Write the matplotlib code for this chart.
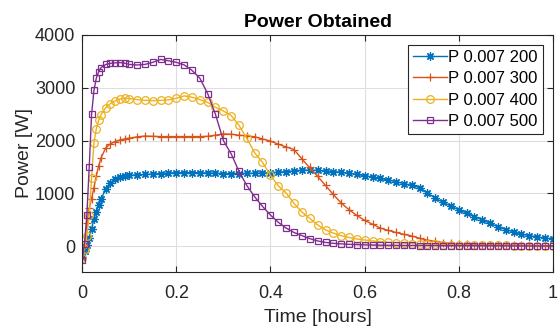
import matplotlib
matplotlib.use('Agg')
import matplotlib.pyplot as plt

# time [hours]
t = [0, 0.005, 0.01, 0.015, 0.02, 0.025, 0.03, 0.035, 0.04, 0.05, 0.06, 0.07, 0.08, 0.09, 0.1,
     0.117, 0.133, 0.15, 0.167, 0.183, 0.2, 0.217, 0.233, 0.25, 0.267, 0.283, 0.3,
     0.317, 0.333, 0.35, 0.367, 0.383, 0.4, 0.417, 0.433, 0.45, 0.467, 0.483, 0.5,
     0.517, 0.533, 0.55, 0.567, 0.583, 0.6, 0.617, 0.633, 0.65, 0.667, 0.683, 0.7,
     0.717, 0.733, 0.75, 0.767, 0.783, 0.8, 0.817, 0.833, 0.85, 0.867, 0.883, 0.9,
     0.917, 0.933, 0.95, 0.967, 0.983, 1.0]

p200 = [-200, -100, 20, 160, 330, 510, 650, 780, 890, 1080, 1190, 1265, 1305, 1325, 1340,
        1350, 1358, 1365, 1375, 1385, 1390, 1395, 1395, 1390, 1385, 1380, 1375,
        1375, 1375, 1378, 1380, 1385, 1390, 1400, 1412, 1425, 1438, 1440, 1435,
        1425, 1412, 1400, 1380, 1360, 1335, 1310, 1285, 1255, 1220, 1185, 1150,
        1110, 1010, 910, 830, 760, 690, 625, 560, 500, 430, 370, 315,
        270, 230, 200, 175, 155, 140]

p300 = [-250, 50, 430, 720, 900, 1110, 1330, 1520, 1670, 1860, 1940, 1980, 2010, 2030, 2045,
        2070, 2085, 2080, 2075, 2075, 2075, 2075, 2075, 2075, 2080, 2100, 2125,
        2120, 2100, 2090, 2070, 2030, 1990, 1930, 1880, 1830, 1650, 1490, 1325,
        1150, 985, 820, 690, 585, 490, 415, 345, 300, 260, 225, 195,
        150, 115, 90, 70, 55, 45, 38, 32, 28, 25, 22, 20,
        18, 16, 14, 13, 12, 10]

p400 = [-220, -50, 200, 600, 1300, 1950, 2220, 2380, 2490, 2620, 2700, 2750, 2785, 2800, 2795,
        2775, 2760, 2755, 2760, 2770, 2800, 2845, 2820, 2775, 2720, 2630, 2560,
        2470, 2290, 2040, 1760, 1590, 1340, 1140, 1010, 810, 645, 530, 405,
        310, 250, 200, 165, 138, 118, 100, 88, 75, 65, 57, 50,
        44, 39, 35, 31, 28, 25, 22, 20, 18, 16, 15, 14,
        13, 12, 11, 10, 10, 9]

p500 = [-270, 50, 600, 1500, 2500, 2950, 3180, 3300, 3380, 3440, 3460, 3470, 3475, 3465, 3440,
        3430, 3440, 3480, 3535, 3510, 3480, 3430, 3330, 3180, 2880, 2500, 2000,
        1740, 1420, 1145, 930, 755, 590, 450, 345, 260, 200, 145, 100,
        72, 55, 45, 36, 30, 25, 22, 20, 18, 16, 15, 14,
        13, 12, 11, 10, 10, 9, 9, 8, 8, 7, 7, 6,
        6, 6, 5, 5, 5, 5]

labels = ['P 0.007 200', 'P 0.007 300', 'P 0.007 400', 'P 0.007 500']
colors = ['#0072BD', '#D95319', '#EDB120', '#7E2F8E']
markers = [(8, 2, 0), '+', 'o', 's']
msizes = [6, 6, 5.5, 5]

plt.rcParams['font.family'] = ['Liberation Sans', 'DejaVu Sans']

fig = plt.figure(figsize=(5.59, 3.32), dpi=100)
ax = fig.add_axes([0.147, 0.182, 0.842, 0.713])

for y, lab, c, m, ms in zip([p200, p300, p400, p500], labels, colors, markers, msizes):
    ax.plot(t, y, color=c, marker=m, markersize=ms, markerfacecolor='none',
            markeredgecolor=c, markeredgewidth=0.9, linewidth=1, label=lab)

ax.set_xlim(0, 1)
ax.set_ylim(-480, 4000)
ax.set_xticks([0, 0.2, 0.4, 0.6, 0.8, 1])
ax.set_xticklabels(['0', '0.2', '0.4', '0.6', '0.8', '1'])
ax.set_yticks([0, 1000, 2000, 3000, 4000])
ax.grid(True, color='#dedede', linewidth=0.8)
ax.set_axisbelow(True)

dark = '#262626'
for s in ax.spines.values():
    s.set_color(dark)
    s.set_linewidth(0.8)
ax.tick_params(direction='in', top=True, right=True, colors=dark, labelsize=13,
               length=4, width=0.8)
ax.tick_params(axis='x', pad=10)
ax.tick_params(axis='y', pad=5)

ax.set_title('Power Obtained', fontsize=14, fontweight='bold', pad=6)
ax.set_xlabel('Time [hours]', fontsize=14, color=dark, labelpad=5)
ax.set_ylabel('Power [W]', fontsize=14, color=dark, labelpad=1)

leg = ax.legend(loc='upper right', fontsize=12, frameon=True, fancybox=False,
                edgecolor=dark, framealpha=1, handlelength=2.0, handletextpad=0.1,
                borderpad=0.3, labelspacing=0.38, borderaxespad=0.6)
leg.get_frame().set_linewidth(0.8)

fig.savefig('out.png', dpi=100)
